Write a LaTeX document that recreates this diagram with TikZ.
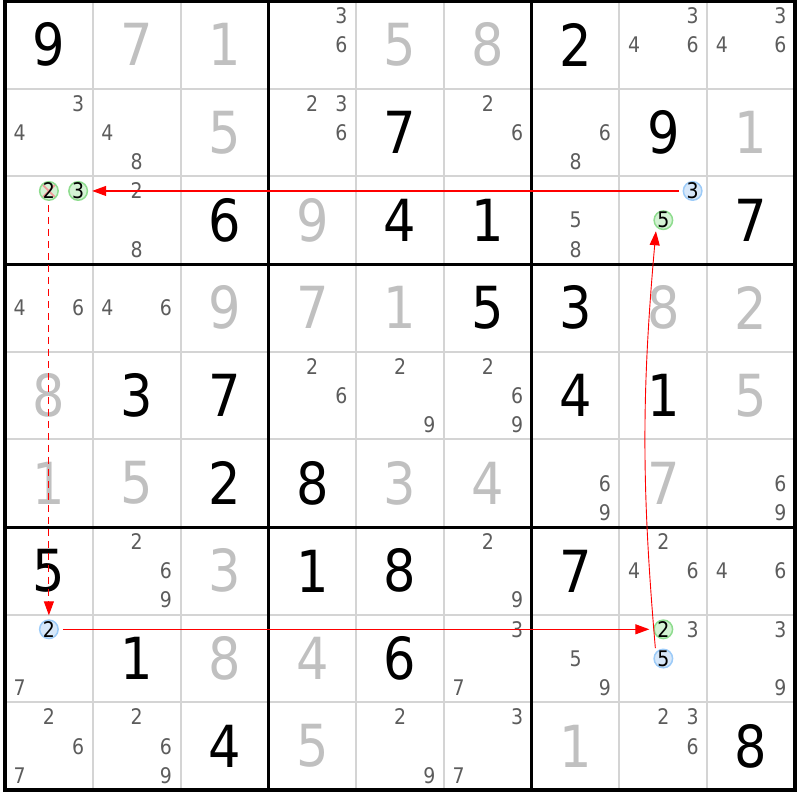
\documentclass[tikz,border=0pt]{standalone}
\usepackage{fontspec}
\setmainfont{DejaVu Sans}[FakeStretch=0.88]
\usetikzlibrary{arrows.meta}

\definecolor{solvedgray}{HTML}{C0C0C0}
\definecolor{candgray}{HTML}{5C5C5C}
\definecolor{gridgray}{HTML}{D4D4D4}
\definecolor{greenline}{HTML}{8EDC8E}
\definecolor{greenfill}{HTML}{D4F3D4}
\definecolor{blueline}{HTML}{9CCBF8}
\definecolor{bluefill}{HTML}{D7E8FA}
\definecolor{xred}{HTML}{F29A9A}

\tikzset{
    given/.style={font=\fontsize{58}{58}\selectfont},
    solved/.style={given,text=solvedgray},
    cand/.style={font=\fontsize{21.5}{21.5}\selectfont,text=candgray},
    hl/.style={circle,inner sep=-0.6pt,minimum size=18.5pt,line width=1.5pt,font=\fontsize{21.5}{21.5}\selectfont},
    hlgreen/.style={hl,draw=greenline,fill=greenfill},
    hlblue/.style={hl,draw=blueline,fill=bluefill},
    crossed/.style={path picture={\draw[xred,line width=1.8pt]
        (path picture bounding box.north west) -- (path picture bounding box.south east)
        (path picture bounding box.north east) -- (path picture bounding box.south west);}},
    link/.style={red,line width=1.1pt,shorten <=4pt,shorten >=4pt,-{Triangle[length=14pt,width=10pt]}}
}

\begin{document}
\begin{tikzpicture}[x=87.78pt,y=-87.67pt]
    \useasboundingbox (-0.057,-0.0114) rectangle (9.0567,9.1137);

    % grid
    \foreach \i in {1,...,8}
        \draw[gridgray,line width=2pt] (\i,0) -- (\i,9) (0,\i) -- (9,\i);
    \foreach \i in {3,6}
        \draw[line width=3pt] (\i,0) -- (\i,9) (0,\i) -- (9,\i);
    \draw[line width=4pt] (0,0) rectangle (9,9);

    % givens
    \foreach \c/\r/\d in {0/0/9,6/0/2,4/1/7,7/1/9,2/2/6,4/2/4,5/2/1,8/2/7,
        5/3/5,6/3/3,1/4/3,2/4/7,6/4/4,7/4/1,2/5/2,3/5/8,
        0/6/5,3/6/1,4/6/8,6/6/7,1/7/1,4/7/6,2/8/4,8/8/8}
        \node[given] at (\c+.5,\r+.5) {\d};

    % solved
    \foreach \c/\r/\d in {1/0/7,2/0/1,4/0/5,5/0/8,2/1/5,8/1/1,3/2/9,
        2/3/9,3/3/7,4/3/1,7/3/8,8/3/2,0/4/8,8/4/5,
        0/5/1,1/5/5,4/5/3,5/5/4,7/5/7,2/6/3,2/7/8,3/7/4,3/8/5,6/8/1}
        \node[solved] at (\c+.5,\r+.5) {\d};

    % candidates
    \foreach \c/\r/\ds in {3/0/{3,6},7/0/{3,4,6},8/0/{3,4,6},
        0/1/{3,4},1/1/{4,8},3/1/{2,3,6},5/1/{2,6},6/1/{6,8},
        1/2/{2,8},6/2/{5,8},0/3/{4,6},1/3/{4,6},
        3/4/{2,6},4/4/{2,9},5/4/{2,6,9},6/5/{6,9},8/5/{6,9},
        1/6/{2,6,9},5/6/{2,9},7/6/{2,4,6},8/6/{4,6},
        0/7/{7},5/7/{3,7},6/7/{5,9},7/7/{3},8/7/{3,9},
        0/8/{2,6,7},1/8/{2,6,9},4/8/{2,9},5/8/{3,7},7/8/{2,3,6}}
        \foreach \d in \ds
            \node[cand] at ({\c+(mod(\d-1,3)+.5)/3},{\r+(floor((\d-1)/3)+.5)/3}) {\d};

    % chain
    \node[hlgreen,crossed] (r3c1d2) at ({0+1.5/3},{2+.5/3}) {2};
    \node[hlgreen] (r3c1d3) at ({0+2.5/3},{2+.5/3}) {3};
    \node[hlblue] (r3c8d3) at ({7+2.5/3},{2+.5/3}) {3};
    \node[hlgreen] (r3c8d5) at ({7+1.5/3},{2+1.5/3}) {5};
    \node[hlblue] (r8c1d2) at ({0+1.5/3},{7+.5/3}) {2};
    \node[hlgreen] (r8c8d2) at ({7+1.5/3},{7+.5/3}) {2};
    \node[hlblue] (r8c8d5) at ({7+1.5/3},{7+1.5/3}) {5};

    \draw[link] (r3c8d3) -- (r3c1d3);
    \draw[link,dash pattern=on 7pt off 5pt] (r3c1d2) -- (r8c1d2);
    \draw[link] (r8c1d2) -- (r8c8d2);
    \draw[link,line width=.9pt] (r8c8d5.140) to[bend left=5] (r3c8d5.225);
\end{tikzpicture}
\end{document}
